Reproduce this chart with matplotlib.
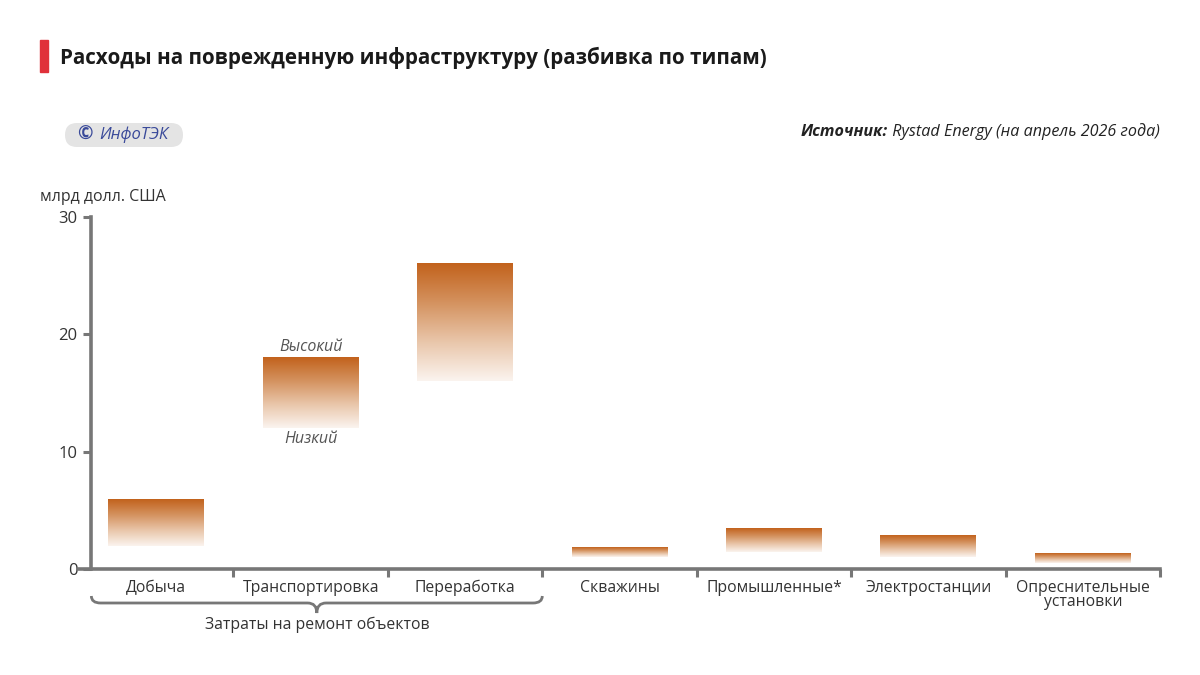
import numpy as np
import matplotlib
matplotlib.use('Agg')
import matplotlib.pyplot as plt
from matplotlib.colors import LinearSegmentedColormap
from matplotlib.patches import FancyBboxPatch, PathPatch, Rectangle
from matplotlib.path import Path
from matplotlib.transforms import blended_transform_factory

# Данные (млрд долл. США): нижняя и верхняя оценки
categories = ['Добыча', 'Транспортировка', 'Переработка', 'Скважины',
              'Промышленные*', 'Электростанции', 'Опреснительные\nустановки']
low = [2.0, 12.0, 16.0, 1.05, 1.45, 1.05, 0.55]
high = [6.0, 18.0, 26.0, 1.9, 3.45, 2.85, 1.35]
y_ticks = [0, 10, 20, 30]

plt.rcParams['font.family'] = ['Open Sans', 'DejaVu Sans']

W, H = 1200, 675
fig = plt.figure(figsize=(12, 6.75), dpi=100)
fig.patch.set_facecolor('white')

# оси: x от 79 до 1160 px, y от 569 до 217 px
ax = fig.add_axes([79 / W, (H - 569) / H, (1160 - 79) / W, (569 - 217) / H])

grey = '#777777'
for s in ['top', 'right']:
    ax.spines[s].set_visible(False)
ax.spines['left'].set_position(('data', -0.42))
for s in ['left', 'bottom']:
    ax.spines[s].set_color(grey)
    ax.spines[s].set_linewidth(2.6)

ax.set_yticks(y_ticks)
ax.set_yticklabels([str(v) for v in y_ticks])
ax.tick_params(axis='y', length=6, width=2.2, color=grey, labelsize=12,
               labelcolor='#333333', pad=4)

ax.set_xticks(range(len(categories)))
ax.set_xticklabels(categories, linespacing=0.85)
ax.tick_params(axis='x', which='major', length=0, labelsize=11.3,
               labelcolor='#333333', pad=8)
ax.set_xticks(np.arange(0.5, len(categories), 1.0), minor=True)
ax.tick_params(axis='x', which='minor', length=6, width=2.2, color=grey)

# градиентные столбики
cmap = LinearSegmentedColormap.from_list(
    'grad', ['#fbf4ef', '#e9c6aa', '#d4925f', '#c2621c'])
grad = np.linspace(0, 1, 256).reshape(-1, 1)
bar_w = 0.62
for i, (lo, hi) in enumerate(zip(low, high)):
    ax.imshow(grad, cmap=cmap, origin='lower', aspect='auto',
              extent=(i - bar_w / 2, i + bar_w / 2, lo, hi), zorder=2,
              interpolation='bilinear')
ax.set_xlim(-0.5, len(categories) - 0.5)
ax.set_ylim(0, 30)

# подписи высокого/низкого сценария
ax.text(1, high[1] + 0.25, 'Высокий', ha='center', va='bottom',
        fontsize=11.5, style='italic', color='#555555')
ax.text(1, low[1] - 0.25, 'Низкий', ha='center', va='top',
        fontsize=11.5, style='italic', color='#555555')

# фигурная скобка под первыми тремя категориями
tr = blended_transform_factory(ax.transData, fig.transFigure)
x0, x1 = -0.42, 2.5
xm = (x0 + x1) / 2
dx = 0.06
yt = (H - 596) / H
yb = (H - 603) / H
yd = (H - 613) / H
verts = [(x0, yt), (x0, yb), (x0 + dx, yb),
         (xm - dx, yb), (xm, yb), (xm, yd),
         (xm, yb), (xm + dx, yb),
         (x1 - dx, yb), (x1, yb), (x1, yt)]
codes = [Path.MOVETO, Path.CURVE3, Path.CURVE3,
         Path.LINETO, Path.CURVE3, Path.CURVE3,
         Path.CURVE3, Path.CURVE3,
         Path.LINETO, Path.CURVE3, Path.CURVE3]
brace = PathPatch(Path(verts, codes), transform=tr, fill=False,
                  edgecolor=grey, linewidth=2.0, clip_on=False)
fig.add_artist(brace)
fig.text(xm, (H - 625) / H, 'Затраты на ремонт объектов', transform=tr,
         ha='center', va='center', fontsize=11.3, color='#333333')

# подпись оси
fig.text(40 / W, (H - 197) / H, 'млрд долл. США', ha='left', va='center',
         fontsize=11.5, color='#333333')

# заголовок
fig.add_artist(Rectangle((40 / W, (H - 72) / H), 8 / W, 32 / H,
                         transform=fig.transFigure, color='#e0313a'))
fig.text(60 / W, (H - 58) / H,
         'Расходы на поврежденную инфраструктуру (разбивка по типам)',
         ha='left', va='center', fontsize=14.9, fontweight='bold',
         color='#1a1a1a')

# логотип (в дюймах, чтобы скругление было ровным)
fig.add_artist(FancyBboxPatch((0.65, (H - 147) / 100), 1.18, 0.24,
                              boxstyle='round,pad=0.0,rounding_size=0.12',
                              transform=fig.dpi_scale_trans,
                              facecolor='#e4e4e4', edgecolor='none'))
fig.text(77 / W, (H - 135) / H, '©', ha='left', va='center', fontsize=13.5,
         fontweight='bold', color='#3a4a9a')
fig.text(99 / W, (H - 135) / H, 'ИнфоТЭК', ha='left', va='center',
         fontsize=12, style='italic', color='#3a4a9a')

# источник
src = fig.text(1160 / W, (H - 132) / H, ' Rystad Energy (на апрель 2026 года)',
               ha='right', va='center', fontsize=11.6, style='italic',
               color='#222222')
renderer = fig.canvas.get_renderer()
bb = src.get_window_extent(renderer=renderer)
fig.text(bb.x0 / W, (H - 132) / H, 'Источник:', ha='right', va='center',
         fontsize=11.6, style='italic', fontweight='bold', color='#222222')

fig.savefig('out.png', dpi=100, facecolor='white')
